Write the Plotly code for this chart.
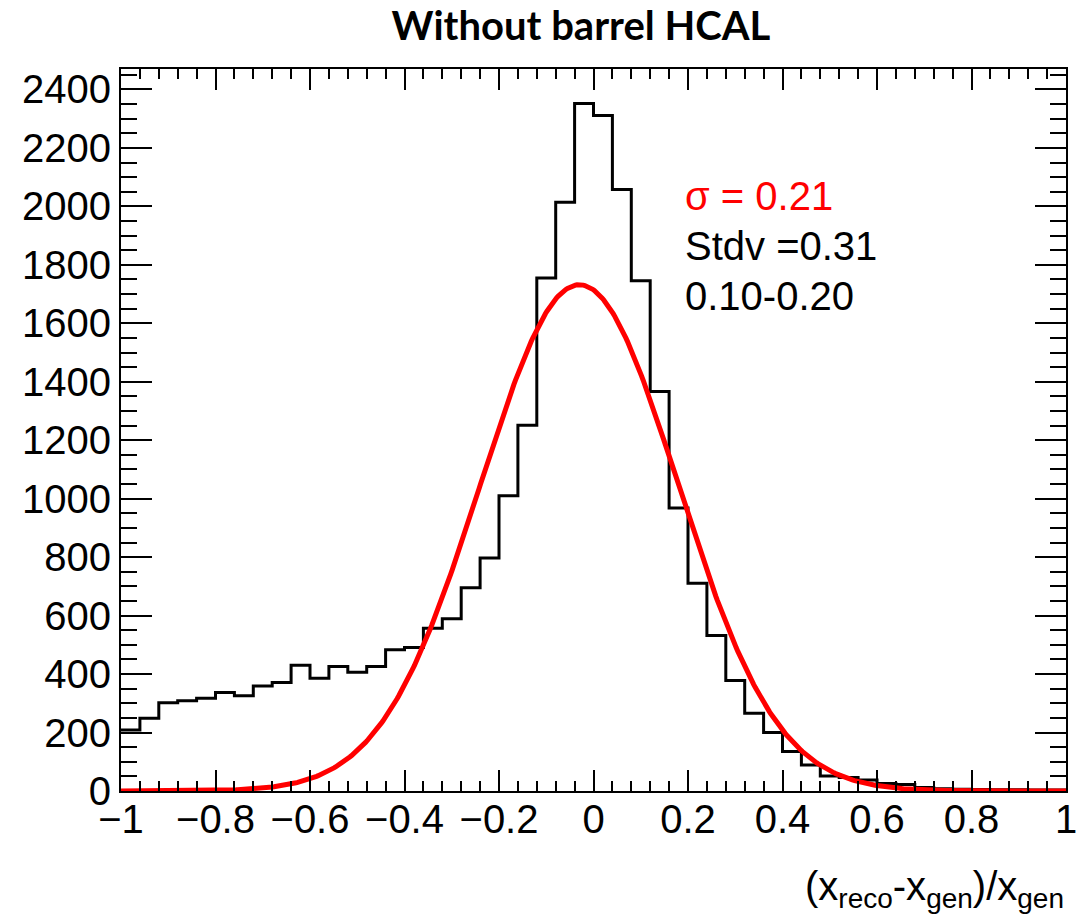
import numpy as np
import plotly.graph_objects as go

# ---- data ----
bin_low = -1.0
bin_high = 1.0
n_bins = 50
counts = [209, 249, 302, 309, 317, 337, 326, 359, 371, 430,
          386, 426, 406, 426, 483, 491, 557, 589, 695, 797,
          1010, 1251, 1755, 2014, 2352, 2311, 2058, 1746, 1367, 968,
          711, 532, 378, 266, 200, 135, 89, 51, 46, 38,
          26, 22, 12, 8, 6, 5, 4, 4, 3, 3]

fit_amplitude = 1732
fit_mean = -0.030
fit_sigma = 0.209

x_tick_vals = [-1, -0.8, -0.6, -0.4, -0.2, 0, 0.2, 0.4, 0.6, 0.8, 1]
x_tick_text = ["\u22121", "\u22120.8", "\u22120.6", "\u22120.4", "\u22120.2", "0",
               "0.2", "0.4", "0.6", "0.8", "1"]
y_tick_vals = [0, 200, 400, 600, 800, 1000, 1200, 1400, 1600, 1800, 2000, 2200, 2400]

title_text = "<b>Without barrel HCAL</b>"
x_title = "(x<sub>reco</sub>-x<sub>gen</sub>)/x<sub>gen</sub>"
label_sigma = "\u03c3 = 0.21"
label_stdv = "Stdv =0.31"
label_range = "0.10-0.20"

# ---- build ----
edges = np.linspace(bin_low, bin_high, n_bins + 1)
hx = list(edges)
hy = list(counts) + [counts[-1]]

fx = np.linspace(bin_low, bin_high, 600)
fy = fit_amplitude * np.exp(-0.5 * ((fx - fit_mean) / fit_sigma) ** 2)

fig = go.Figure()
fig.add_trace(go.Scatter(x=hx, y=hy, mode="lines", line=dict(shape="hv", color="black", width=3),
                         hoverinfo="skip", showlegend=False))
fig.add_trace(go.Scatter(x=fx, y=fy, mode="lines", line=dict(color="#ff0000", width=5),
                         hoverinfo="skip", showlegend=False))

tick_font = dict(family="Liberation Sans, Arial, sans-serif", size=40, color="black")

fig.update_layout(
    width=1092, height=923,
    margin=dict(l=121, r=26, t=69, b=132),
    paper_bgcolor="white", plot_bgcolor="white",
    title=dict(text=title_text, x=0.532, xanchor="center", y=0.972, yanchor="middle",
               font=dict(family="Lato, sans-serif", size=40, color="black")),
    xaxis=dict(range=[bin_low, bin_high], tickvals=x_tick_vals, ticktext=x_tick_text,
               ticks="inside", ticklen=21, tickwidth=2, tickcolor="black",
               showgrid=False, zeroline=False, showline=True, linecolor="black", linewidth=2,
               mirror="allticks", tickfont=tick_font, ticklabelstandoff=-8,
               minor=dict(dtick=0.04, ticks="inside", ticklen=10, tickwidth=2, tickcolor="black",
                          showgrid=False)),
    yaxis=dict(range=[0, 2470], tickvals=y_tick_vals,
               ticks="inside", ticklen=31, tickwidth=2, tickcolor="black",
               showgrid=False, zeroline=False, showline=True, linecolor="black", linewidth=2,
               mirror="allticks", tickfont=tick_font,
               minor=dict(dtick=50, ticks="inside", ticklen=16, tickwidth=2, tickcolor="black",
                          showgrid=False)),
)

ann_font = dict(family="Liberation Sans, Arial, sans-serif", size=40)
fig.add_annotation(text=label_sigma, xref="paper", yref="paper", x=(683 - 121) / 945,
                   y=(791 - 196) / 722, xanchor="left", yanchor="middle", showarrow=False,
                   font=dict(ann_font, color="#ff0000"))
fig.add_annotation(text=label_stdv, xref="paper", yref="paper", x=(683 - 121) / 945,
                   y=(791 - 246) / 722, xanchor="left", yanchor="middle", showarrow=False,
                   font=dict(ann_font, color="black"))
fig.add_annotation(text=label_range, xref="paper", yref="paper", x=(683 - 121) / 945,
                   y=(791 - 296) / 722, xanchor="left", yanchor="middle", showarrow=False,
                   font=dict(ann_font, color="black"))
fig.add_annotation(text=x_title, xref="paper", yref="paper", x=1.0, y=(791 - 862) / 722,
                   xanchor="right", yanchor="top", showarrow=False,
                   font=dict(family="Liberation Sans, Arial, sans-serif", size=40, color="black"))

fig.write_html("out.html")
